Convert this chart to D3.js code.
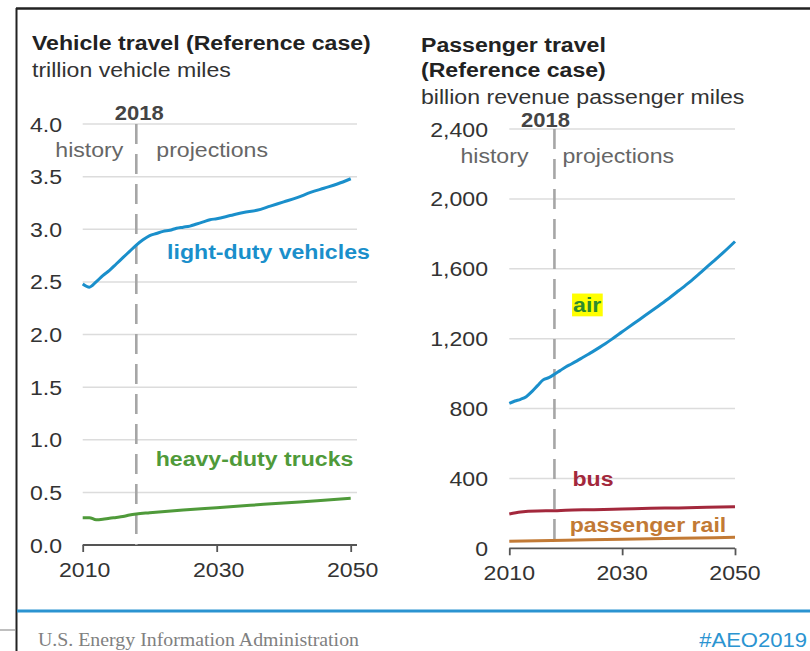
<!DOCTYPE html>
<html>
<head>
<meta charset="utf-8">
<script src="https://cdn.jsdelivr.net/npm/d3@7"></script>
<style>
  body { margin: 0; background: #fff; }
  svg text { font-family: "Liberation Sans", Arial, sans-serif; }
</style>
</head>
<body>
<div id="chart"></div>
<script>
// left panel: trillion vehicle miles
const ldvYears = [2010,2011,2012,2013,2014,2015,2016,2017,2018,2019,2020,2021,2022,2023,2024,2025,2026,2027,2028,2029,2030,2032,2034,2036,2038,2040,2042,2044,2046,2048,2050];
const ldvValues = [2.48,2.45,2.50,2.56,2.61,2.67,2.73,2.79,2.85,2.90,2.94,2.96,2.98,2.99,3.01,3.02,3.03,3.05,3.07,3.09,3.10,3.13,3.16,3.18,3.22,3.26,3.30,3.35,3.39,3.43,3.48];
const truckYears = [2010,2011,2012,2013,2014,2015,2016,2017,2018,2020,2025,2030,2035,2040,2045,2050];
const truckValues = [0.26,0.26,0.24,0.245,0.255,0.262,0.27,0.285,0.295,0.307,0.333,0.355,0.377,0.40,0.42,0.444];

// right panel: billion revenue passenger miles
const airYears = [2010,2011,2012,2013,2014,2015,2016,2017,2018,2019,2020,2021,2022,2023,2024,2025,2026,2027,2028,2030,2032,2034,2036,2038,2040,2042,2044,2046,2048,2050];
const airValues = [830,843,853,868,897,931,964,977,996,1017,1038,1055,1073,1092,1111,1130,1150,1171,1193,1239,1285,1331,1377,1424,1474,1525,1581,1638,1695,1756];
const busYears = [2010,2012,2015,2018,2020,2025,2030,2035,2040,2045,2050];
const busValues = [196,208,214,215,218,221,225,229,231,235,238];
const railYears = [2010,2020,2030,2040,2050];
const railValues = [40,46,52,57,63];

const leftTicks = [0, 0.5, 1, 1.5, 2, 2.5, 3, 3.5, 4];
const rightTicks = [0, 400, 800, 1200, 1600, 2000, 2400];
const xTicks = [2010, 2030, 2050];
const splitYear = 2018;

const colors = {
    ldv: "#1a8fcb",
    truck: "#4f9a3a",
    air: "#1a8fcb",
    bus: "#a3283c",
    rail: "#c27a35"
};

const width = 810, height = 651;
const SX = 1.1; // the source slide text is a bit wide

const svg = d3.select("#chart").append("svg")
    .attr("width", width)
    .attr("height", height);

// text helper: position by translate, stretch horizontally
function txt(parent, x, y, str, o = {}) {
    return parent.append("text")
        .attr("transform", `translate(${x},${y}) scale(${o.sx || SX},1)`)
        .attr("text-anchor", o.anchor || "start")
        .attr("dy", o.dy || null)
        .style("font-size", (o.size || 21) + "px")
        .style("font-weight", o.bold ? "bold" : "normal")
        .style("font-family", o.family || null)
        .attr("fill", o.fill || "#333")
        .text(str);
}

// frame
svg.append("line").attr("x1", 16).attr("x2", 810).attr("y1", 8.5).attr("y2", 8.5)
    .attr("stroke", "#222").attr("stroke-width", 2.5);
svg.append("line").attr("x1", 16.5).attr("x2", 16.5).attr("y1", 8).attr("y2", 651)
    .attr("stroke", "#222").attr("stroke-width", 2);
svg.append("line").attr("x1", 0).attr("x2", 15).attr("y1", 630).attr("y2", 630)
    .attr("stroke", "#aaa").attr("stroke-width", 1.5);
svg.append("line").attr("x1", 17).attr("x2", 810).attr("y1", 611).attr("y2", 611)
    .attr("stroke", "#2b94d1").attr("stroke-width", 3);

txt(svg, 38, 646, "U.S. Energy Information Administration",
    { family: "'Liberation Serif', 'Times New Roman', serif", size: 19, sx: 1.045, fill: "#808080" });
txt(svg, 807, 647, "#AEO2019", { anchor: "end", size: 21, sx: 1.05, fill: "#2b94d1" });

function panel(cfg) {
    const g = svg.append("g");
    const x = d3.scaleLinear().domain([2010, 2050]).range(cfg.xRange);
    const y = d3.scaleLinear().domain(cfg.yDomain).range(cfg.yRange);

    // titles
    cfg.title.forEach((t, i) => {
        txt(g, cfg.titleX, cfg.titleY[i], t, { bold: true, fill: "#222" });
    });
    txt(g, cfg.titleX, cfg.unitY, cfg.unit, { fill: "#333" });

    // gridlines
    g.append("g").selectAll("line")
        .data(cfg.ticks.filter(d => d !== 0))
        .enter().append("line")
        .attr("x1", cfg.xRange[0]).attr("x2", cfg.gridEnd)
        .attr("y1", d => y(d)).attr("y2", d => y(d))
        .attr("stroke", "#dcdcdc").attr("stroke-width", 1.5);

    // y labels
    cfg.ticks.forEach(d => {
        txt(g, cfg.yLabelX, y(d), cfg.fmt(d), { anchor: "end", dy: "0.36em" });
    });

    // x axis
    const xAxis = g.append("g").attr("transform", `translate(0,${y(0)})`)
        .call(d3.axisBottom(x).tickValues(xTicks).tickFormat("").tickSize(7));
    xAxis.select(".domain").attr("d", `M${cfg.xRange[0]},0H${cfg.gridEnd}`)
        .attr("stroke", "#555").attr("stroke-width", 1.8);
    xAxis.selectAll(".tick line").attr("stroke", "#555").attr("stroke-width", 1.8);
    xTicks.forEach(t => {
        txt(g, x(t) + cfg.xLabelDx, y(0) + 32, d3.format("d")(t), { anchor: "middle" });
    });

    // history / projections divider
    const xs = x(splitYear);
    g.append("line").attr("x1", xs).attr("x2", xs)
        .attr("y1", y(cfg.yDomain[1])).attr("y2", y(0))
        .attr("stroke", "#a6a6a6").attr("stroke-width", 2.6)
        .attr("stroke-dasharray", "20,10");
    txt(g, xs + cfg.yearDx, cfg.yearY, splitYear, { anchor: "middle", size: 20, bold: true, fill: "#444" });
    txt(g, xs - cfg.histDx, cfg.histY, "history", { anchor: "end", fill: "#666" });
    txt(g, xs + cfg.projDx, cfg.histY, "projections", { fill: "#666" });

    // series
    const line = d3.line().x(d => x(d[0])).y(d => y(d[1])).curve(d3.curveMonotoneX);
    cfg.series.forEach(s => {
        g.append("path")
            .datum(d3.zip(s.years, s.values))
            .attr("fill", "none").attr("stroke", s.color)
            .attr("stroke-width", 3).attr("stroke-linejoin", "round")
            .attr("d", line);
        const lx = x(s.label[0]), ly = y(s.label[1]);
        const t = txt(g, lx, ly, s.name, { bold: true, fill: s.labelColor || s.color });
        if (s.highlight) {
            const bb = t.node().getBBox();
            g.insert("rect", () => t.node())
                .attr("x", lx + bb.x * SX - 1).attr("y", ly + bb.y + 1)
                .attr("width", bb.width * SX + 2).attr("height", bb.height - 1)
                .attr("fill", s.highlight);
        }
    });
}

panel({
    xRange: [82.7, 350.7], gridEnd: 357, xLabelDx: 2,
    yDomain: [0, 4], yRange: [545, 124],
    ticks: leftTicks, fmt: d3.format(".1f"), yLabelX: 62,
    title: ["Vehicle travel (Reference case)"], titleX: 32, titleY: [50],
    unit: "trillion vehicle miles", unitY: 77,
    yearDx: 3, yearY: 120, histDx: 13, projDx: 20, histY: 157,
    series: [
        { name: "light-duty vehicles", years: ldvYears, values: ldvValues, color: colors.ldv, label: [2022.6, 2.72] },
        { name: "heavy-duty trucks", years: truckYears, values: truckValues, color: colors.truck, label: [2020.9, 0.755] }
    ]
});

panel({
    xRange: [509.3, 735], gridEnd: 735, xLabelDx: 0,
    yDomain: [0, 2400], yRange: [548.3, 129],
    ticks: rightTicks, fmt: d3.format(","), yLabelX: 488,
    title: ["Passenger travel", "(Reference case)"], titleX: 421, titleY: [52, 77],
    unit: "billion revenue passenger miles", unitY: 104,
    yearDx: -9, yearY: 127, histDx: 26, projDx: 8, histY: 163,
    series: [
        { name: "air", years: airYears, values: airValues, color: colors.air, label: [2021.3, 1355], labelColor: "#2e8b2e", highlight: "#ffff00" },
        { name: "bus", years: busYears, values: busValues, color: colors.bus, label: [2021.2, 355] },
        { name: "passenger rail", years: railYears, values: railValues, color: colors.rail, label: [2020.7, 95] }
    ]
});
</script>
</body>
</html>
